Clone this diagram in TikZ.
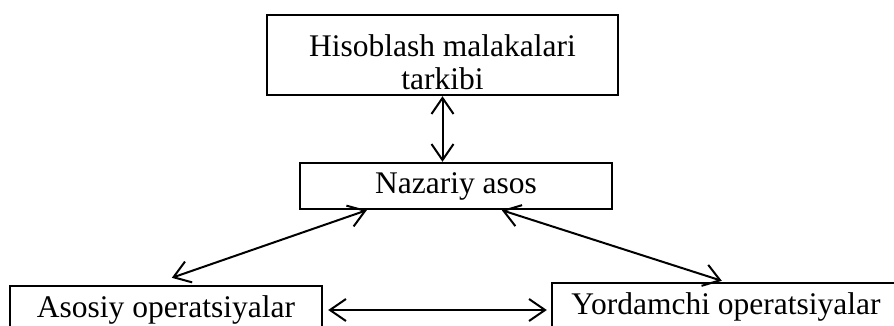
\documentclass[tikz,border=0pt]{standalone}
\usepackage{fontspec}
\setmainfont{Liberation Serif}
\usetikzlibrary{arrows.meta}

\begin{document}
\begin{tikzpicture}[
    x=1pt, y=-1pt,
    box/.style={rectangle, draw, line width=2.4pt, minimum height=46pt, inner sep=0pt, font=\fontsize{31.5}{33}\selectfont, align=center},
    arr/.style={{Straight Barb[length=16pt,width=22pt]}-{Straight Barb[length=16pt,width=22pt]}, line width=2pt}
]
  \useasboundingbox (0,0) rectangle (894,325);
  \clip (0,0) rectangle (894,325);

  \node[box, minimum width=351pt, minimum height=80pt] (skill) at (442.5,55) {\rule{0pt}{36pt}Hisoblash malakalari\\tarkibi};
  \node[box, minimum width=312pt] (basis) at (456,186) {Nazariy asos};
  \node[box, minimum width=312pt, minimum height=48pt] (main) at (166,310) {Asosiy operatsiyalar};
  \node[box, minimum width=348pt, minimum height=48pt] (aux) at (726,307) {Yordamchi operatsiyalar};

  \draw[arr] (skill.south) -- (basis.north -| skill.south);
  \draw[arr] ([xshift=68pt]basis.south west) -- ([xshift=163pt,yshift=7pt]main.north west);
  \draw[arr] ([xshift=203pt]basis.south west) -- ([xshift=171pt,yshift=1pt]aux.north west);
  \draw[arr] ([xshift=5pt]main.east) -- ([xshift=-4pt]aux.west |- main.east);
\end{tikzpicture}
\end{document}
